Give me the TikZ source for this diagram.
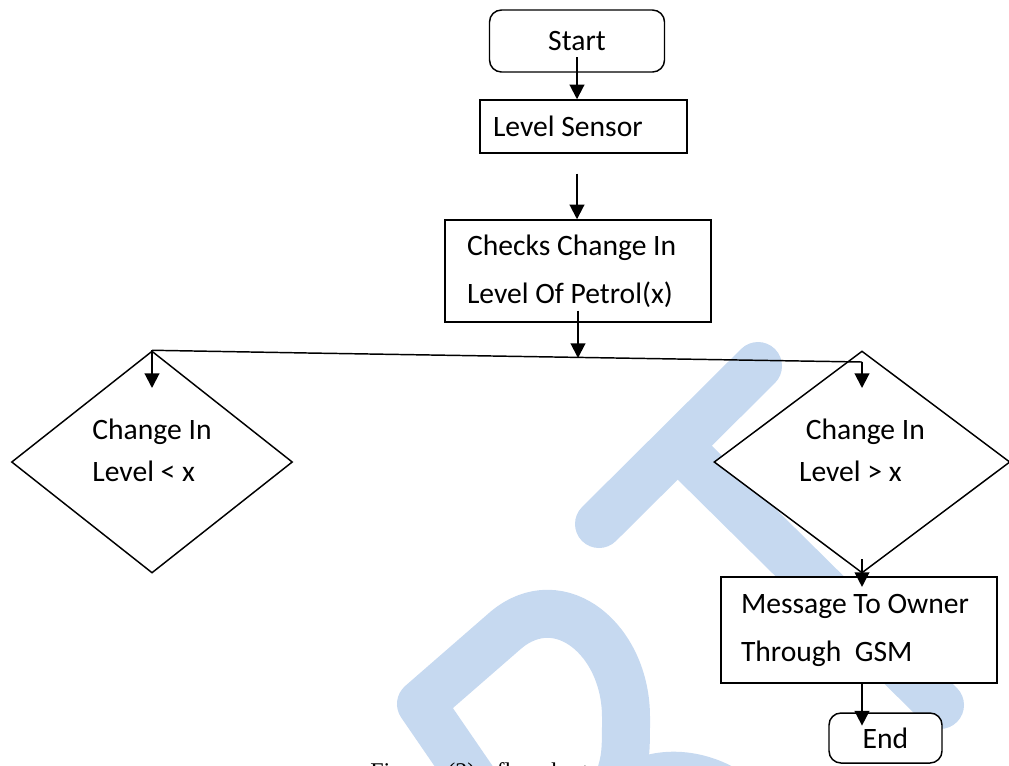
\documentclass[tikz,border=0pt]{standalone}
\usepackage{fontspec}
\setmainfont{Carlito}
\newfontfamily\capfont{Liberation Serif}
\usetikzlibrary{shapes.geometric, arrows.meta}
\definecolor{wmblue}{RGB}{198,217,240}
\tikzset{%
    box/.style={draw, rectangle, fill=white, line width=1.1pt, align=left, font=\fontsize{22.2}{36}\selectfont,
        execute at begin node={\spaceskip=0pt\xspaceskip=0pt}},
    term/.style={box, rounded corners=9pt, align=center},
    decision/.style={draw, diamond, aspect=1.3, fill=white, line width=1.1pt, inner sep=0pt, minimum height=166.5pt, font=\fontsize{22.2}{31.5}\selectfont},
    arr/.style={line width=1.5pt, -{Triangle[length=11pt,width=11pt]}},
    branch/.style={line width=1.1pt},
    wm/.style={wmblue, line width=36pt, line cap=round, line join=round}
}
% extra depth below a text block, so that it sits higher in its node
\newcommand{\lifted}[1]{\raisebox{0pt}[\height][\dimexpr\depth+15pt\relax]{#1}}

\begin{document}
\begin{tikzpicture}[x=0.75pt, y=-0.75pt]
        \useasboundingbox (0,0) rectangle (1009,765);
        \clip (0,0) rectangle (1009,765);

        % watermark
        \draw[wm] (758,366) -- (599,524);
        \draw[wm] (690,458) -- (940,705);
        \draw[wm] (480,790) -- (421,704) -- (506,630) .. controls (560,585) and (626,640) .. (626,717) .. controls (626,760) .. (612,800);
        \draw[wm] (626,792) .. controls (650,770) and (700,768) .. (740,800);

        % caption, cut off by the page edge
        \node[anchor=base west, inner sep=0pt, font=\capfont\fontsize{18}{20}\selectfont] (caption) at (370,779) {Figure\hspace{10.9pt}(2):\hspace{10.9pt}flowchart};

        \node[term, minimum width=131.25pt, minimum height=46.5pt] (start) at (577,41) {Start};
        \node[box, text width=135.75pt, inner xsep=9.75pt, minimum height=39.75pt] (sensor) at (583.5,126.5) {Level Sensor};
        \node[box, text width=166.5pt, inner xsep=16.5pt, minimum height=76.5pt] (checks) at (578,271) {Checks Change In\\Level Of Petrol(x)};

        \node[decision, minimum width=210.75pt] (ldia) at (152,462) {\lifted{\begin{tabular}{@{}l@{}}Change In\\Level < x\end{tabular}}};
        \node[decision, minimum width=222pt] (rdia) at (862,462) {\lifted{\begin{tabular}{@{}l@{}}\hspace{5pt}Change In\\Level > x\end{tabular}}};

        \node[box, text width=177pt, inner xsep=15pt, minimum height=79.5pt] (message) at (859,630) {Message To Owner\\Through\ \ GSM};
        \node[term, minimum width=84.75pt, minimum height=37.5pt] (end) at (885.5,738) {End};

        \coordinate (split) at (578,358);
        \coordinate (bend) at (308,353);
        \coordinate (rjoin) at (862,362);
        \coordinate (ltip) at (152,388);
        \coordinate (rtip) at (862,388);

        \draw[arr] ([yshift=-12pt]start.center) -- (sensor.north -| start.center);
        \draw[arr] ([yshift=-15pt]sensor.south -| start.center) -- (checks.north -| start.center);
        \draw[arr] ([yshift=9pt]checks.south) -- (split);

        \draw[branch] (ldia.north) -- (bend) -- (rjoin);
        \draw[arr] (ldia.north) -- (ltip);
        \draw[arr] (rjoin) -- (rtip);

        \draw[arr] ([yshift=11pt]rdia.south) -- ([yshift=-8pt]message.north -| rdia.south);
        \draw[arr] (message.south -| rdia.south) -- ([yshift=-10pt]end.north -| rdia.south);
\end{tikzpicture}
\end{document}
